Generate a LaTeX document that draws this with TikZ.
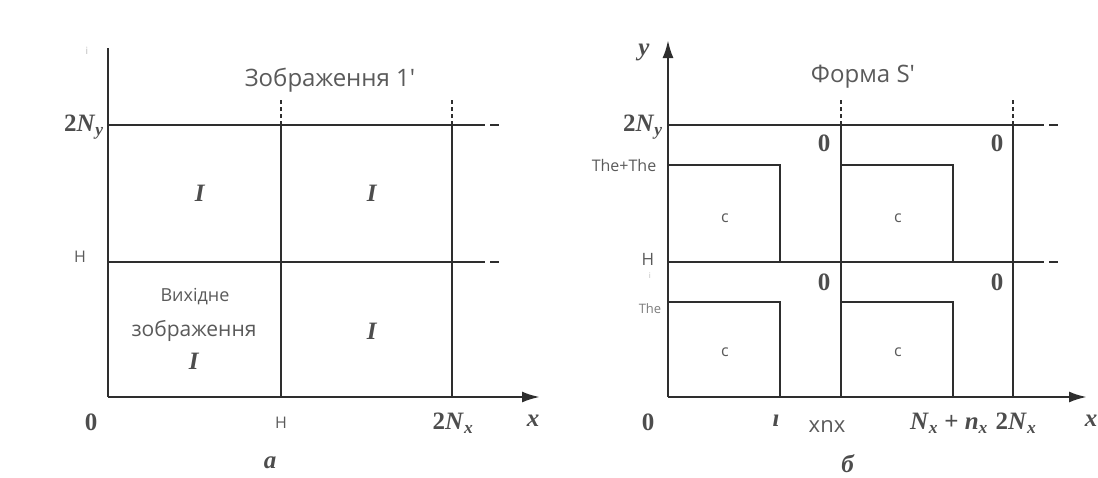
\documentclass[tikz,border=0pt]{standalone}
\usepackage{fontspec}
\setmainfont{Liberation Serif}
\newfontfamily\sansf{Open Sans}
\usetikzlibrary{arrows.meta}
\definecolor{ln}{HTML}{2E2E2E}
\definecolor{tx}{HTML}{5A5A5A}
\definecolor{faint}{HTML}{BBBBBB}
\newcommand\myN[1]{\textit{N}\textsubscript{\textit{#1}}}
\begin{document}
\begin{tikzpicture}[x=1pt,y=-1pt,
  ax/.style={line width=2.5pt, draw=ln, -{Latex[length=18pt,width=11pt]}},
  gridl/.style={line width=2.5pt, draw=ln},
  extv/.style={line width=1.6pt, draw=ln, dash pattern=on 4pt off 3pt},
  exth/.style={line width=2pt, draw=ln, dash pattern=on 9pt off 5pt},
  mathl/.style={font=\bfseries\fontsize{25}{25}\selectfont, text=ln!85, inner sep=0pt},
  zero/.style={font=\bfseries\fontsize{25}{25}\selectfont, text=ln!85, inner sep=0pt},
  lbl/.style={font=\sansf\fontsize{24}{26}\selectfont, text=tx, inner sep=0pt},
  smalll/.style={font=\sansf\fontsize{16}{18}\selectfont, text=tx, inner sep=0pt},
  tinyl/.style={font=\sansf\fontsize{13}{14}\selectfont, text=tx!80, inner sep=0pt},
]
\useasboundingbox (0,0) rectangle (1098,477);

% ---------------- left panel ----------------
\coordinate (lo) at (108,397);
\coordinate (lyt) at (108,48);
\coordinate (lxt) at (540,397);
\draw[gridl] (lo) -- (lyt);
\draw[ax] (lo) -- (lxt);
\foreach \xx/\nm in {281/la,452/lb}{
  \coordinate (\nm1) at (\xx,397);
  \coordinate (\nm2) at (\xx,125);
  \coordinate (\nm3) at (\xx,99);
  \draw[gridl] (\nm1) -- (\nm2);
  \draw[extv] (\nm2) -- (\nm3);
}
\foreach \yy/\nm in {125/lc,262/ld}{
  \coordinate (\nm1) at (108,\yy);
  \coordinate (\nm2) at (476,\yy);
  \coordinate (\nm3) at (502,\yy);
  \draw[gridl] (\nm1) -- (\nm2);
  \draw[exth] (\nm2) -- (\nm3);
}
\node[font=\sansf\fontsize{10}{10}\selectfont, text=faint] (li) at (87,51) {i};
\node[lbl] (ltitle) at (330,80) {Зображення 1'};
\node[mathl, anchor=east] (l2ny) at (104,127) {2\myN{y}};
\node[smalll] (lH) at (80,257) {H};
\node[zero] (l0) at (91,422) {0};
\node[smalll] (lHb) at (281,423) {H};
\node[mathl] (l2nx) at (453,423) {2\myN{x}};
\node[mathl] (lx) at (533,421) {\textit{x}};
\node[mathl] (la) at (270,463) {\textit{a}};
\node[mathl] (lI1) at (200,193) {\textit{I}};
\node[mathl] (lI2) at (372,193) {\textit{I}};
\node[mathl] (lI3) at (372,331) {\textit{I}};
\node[lbl, font=\sansf\fontsize{18}{20}\selectfont] (lv1) at (195,297) {Вихідне};
\node[lbl, font=\sansf\fontsize{21}{22}\selectfont] (lv2) at (194,331) {зображення};
\node[mathl] (lI4) at (194,361) {\textit{I}};

% ---------------- right panel ----------------
\coordinate (ro) at (668,397);
\coordinate (ryt) at (668,40);
\coordinate (rxt) at (1087,397);
\draw[ax] (ro) -- (ryt);
\draw[ax] (ro) -- (rxt);
\foreach \xx/\nm in {841/ra,1013/rb}{
  \coordinate (\nm1) at (\xx,397);
  \coordinate (\nm2) at (\xx,125);
  \coordinate (\nm3) at (\xx,99);
  \draw[gridl] (\nm1) -- (\nm2);
  \draw[extv] (\nm2) -- (\nm3);
}
\foreach \yy/\nm in {125/rc,262/rd}{
  \coordinate (\nm1) at (668,\yy);
  \coordinate (\nm2) at (1035,\yy);
  \coordinate (\nm3) at (1061,\yy);
  \draw[gridl] (\nm1) -- (\nm2);
  \draw[exth] (\nm2) -- (\nm3);
}
% rectangles S
\draw[gridl] (668,165) -- (780,165) -- (780,262);
\draw[gridl] (841,165) -- (953,165) -- (953,262);
\draw[gridl] (668,302) -- (780,302) -- (780,397);
\draw[gridl] (841,302) -- (953,302) -- (953,397);

\node[lbl] (rtitle) at (863,77) {Форма S'};
\node[mathl] (ry) at (644,52) {\textit{y}};
\node[mathl, anchor=east] (r2ny) at (663,127) {2\myN{y}};
\node[smalll] (rtt) at (624,165) {The+The};
\node[smalll, font=\sansf\fontsize{17}{18}\selectfont] (rH) at (648,259) {H};
\node[font=\sansf\fontsize{8}{8}\selectfont, text=faint] (ri) at (650,276) {i};
\node[tinyl] (rthe) at (650,309) {The};
\node[zero] (r01) at (824,143) {0};
\node[zero] (r02) at (997,143) {0};
\node[zero] (r03) at (824,282) {0};
\node[zero] (r04) at (997,282) {0};
\node[smalll] (rc1) at (725,218) {c};
\node[smalll] (rc2) at (898,218) {c};
\node[smalll] (rc3) at (725,352) {c};
\node[smalll] (rc4) at (898,352) {c};
\node[zero] (r0) at (648,422) {0};
\node[mathl] (rdot) at (776,421) {\textit{ı}};
\node[lbl, font=\sansf\fontsize{22}{24}\selectfont] (rxnx) at (827,426) {xnx};
\node[mathl] (rnn) at (949,423) {\myN{x} + \textit{n}\textsubscript{\textit{x}}};
\node[mathl] (r2nx) at (1016,423) {2\myN{x}};
\node[mathl] (rx) at (1091,421) {\textit{x}};
\node[mathl] (rb) at (848,464) {\textit{б}};
\end{tikzpicture}
\end{document}
